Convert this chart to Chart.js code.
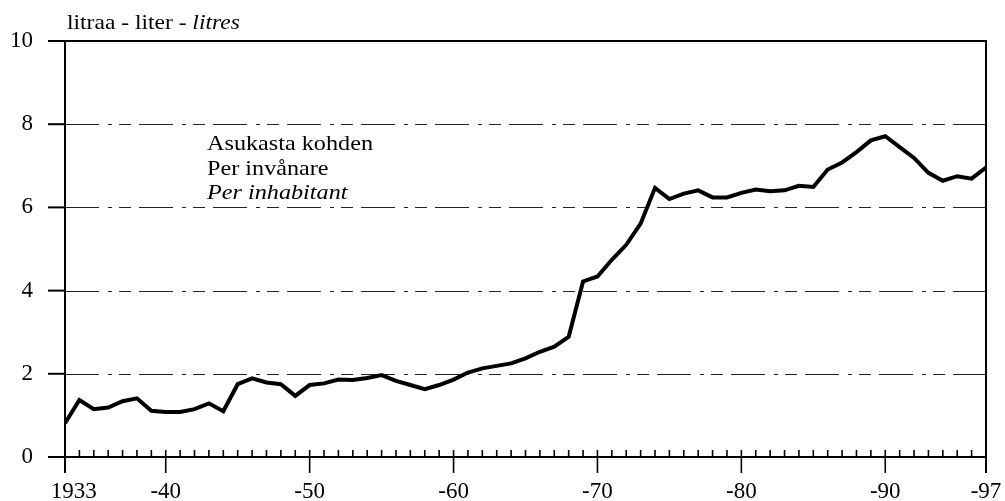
<!DOCTYPE html>
<html>
<head>
<meta charset="utf-8">
<script src="https://cdn.jsdelivr.net/npm/chart.js@4.4.0/dist/chart.umd.min.js"></script>
<style>
  html, body { margin: 0; padding: 0; background: #fff; }
  #wrap { width: 1005px; height: 501px; position: relative; }
</style>
</head>
<body>
<div id="wrap"><canvas id="chart"></canvas></div>
<script>
// === DATA ===
const years = [
  1933, 1934, 1935, 1936, 1937, 1938, 1939, 1940, 1941, 1942,
  1943, 1944, 1945, 1946, 1947, 1948, 1949, 1950, 1951, 1952,
  1953, 1954, 1955, 1956, 1957, 1958, 1959, 1960, 1961, 1962,
  1963, 1964, 1965, 1966, 1967, 1968, 1969, 1970, 1971, 1972,
  1973, 1974, 1975, 1976, 1977, 1978, 1979, 1980, 1981, 1982,
  1983, 1984, 1985, 1986, 1987, 1988, 1989, 1990, 1991, 1992,
  1993, 1994, 1995, 1996, 1997
];
const litres = [
  0.81, 1.37, 1.15, 1.19, 1.34, 1.41, 1.11, 1.08, 1.08, 1.15,
  1.29, 1.10, 1.75, 1.89, 1.79, 1.75, 1.47, 1.73, 1.77, 1.86,
  1.85, 1.90, 1.97, 1.83, 1.73, 1.63, 1.73, 1.86, 2.03, 2.13,
  2.19, 2.25, 2.37, 2.53, 2.65, 2.89, 4.22, 4.34, 4.74, 5.10,
  5.61, 6.47, 6.20, 6.33, 6.41, 6.24, 6.24, 6.35, 6.43, 6.39,
  6.41, 6.52, 6.49, 6.91, 7.08, 7.33, 7.61, 7.71, 7.45, 7.19,
  6.83, 6.64, 6.75, 6.69, 6.96
];
const xTickYears = [1933, 1940, 1950, 1960, 1970, 1980, 1990, 1997];
const xTickLabels = ['   1933', '-40', '-50', '-60', '-70', '-80', '-90', '-97'];
const yTicks = [0, 2, 4, 6, 8, 10];
const yGridValues = [2, 4, 6, 8];
const unitTitle = ['litraa - liter - ', 'litres'];
const noteLines = ['Asukasta kohden', 'Per invånare', 'Per inhabitant'];

const SERIF = '"Liberation Serif", "DejaVu Serif", serif';

// texte un peu étiré, comme dans le scan
function texteEtire(ctx, parts, x, y, stretch) {
  ctx.save();
  ctx.translate(x, y);
  ctx.scale(stretch, 1);
  let dx = 0;
  parts.forEach(p => {
    ctx.font = p.font;
    ctx.fillText(p.text, dx, 0);
    dx += ctx.measureText(p.text).width;
  });
  ctx.restore();
}

// axes, ticks, dashed grid and texts
const decor = {
  id: 'decor',
  beforeDatasetsDraw(chart) {
    const { ctx, chartArea: a, scales: { y } } = chart;
    ctx.save();
    ctx.strokeStyle = '#222';
    ctx.lineWidth = 1.2;
    ctx.setLineDash([34, 9, 4, 7, 12, 8]);
    yGridValues.forEach(v => {
      const py = Math.round(y.getPixelForValue(v)) + 0.5;
      ctx.beginPath();
      ctx.moveTo(a.left, py);
      ctx.lineTo(a.right, py);
      ctx.stroke();
    });
    ctx.restore();
  },
  afterDatasetsDraw(chart) {
    const { ctx, chartArea: a, scales: { x, y } } = chart;
    ctx.save();
    ctx.strokeStyle = '#000';
    ctx.lineWidth = 2;
    const below = a.bottom + 16;
    // frame
    ctx.beginPath();
    ctx.moveTo(a.left, below);
    ctx.lineTo(a.left, a.top);
    ctx.lineTo(a.right, a.top);
    ctx.lineTo(a.right, below);
    ctx.moveTo(a.left, a.bottom);
    ctx.lineTo(a.right, a.bottom);
    ctx.stroke();
    // y ticks to the left
    yTicks.forEach(v => {
      const py = y.getPixelForValue(v);
      ctx.beginPath();
      ctx.moveTo(a.left - 17, py);
      ctx.lineTo(a.left, py);
      ctx.stroke();
    });
    // x ticks: minor up, major across
    ctx.lineWidth = 1.6;
    years.forEach(yr => {
      const px = x.getPixelForValue(yr);
      ctx.beginPath();
      ctx.moveTo(px, a.bottom - 7);
      ctx.lineTo(px, xTickYears.includes(yr) ? below : a.bottom);
      ctx.stroke();
    });
    // unit title + note
    ctx.fillStyle = '#000';
    ctx.textBaseline = 'alphabetic';
    ctx.textAlign = 'left';
    texteEtire(ctx, [
      { text: unitTitle[0], font: '21px ' + SERIF },
      { text: unitTitle[1], font: 'italic 21px ' + SERIF }
    ], 67, 29, 1.12);
    noteLines.forEach((t, i) => {
      texteEtire(ctx, [{ text: t, font: (i === 2 ? 'italic ' : '') + '22px ' + SERIF }],
        207, 150 + i * 24.5, 1.1);
    });
    ctx.restore();
  }
};

new Chart(document.getElementById('chart'), {
  type: 'line',
  data: {
    datasets: [{
      data: years.map((yr, i) => ({ x: yr, y: litres[i] })),
      borderColor: '#000',
      borderWidth: 4,
      pointRadius: 0,
      tension: 0,
      fill: false
    }]
  },
  options: {
    responsive: true,
    maintainAspectRatio: false,
    animation: false,
    layout: { padding: { top: 41, right: 19, left: 0, bottom: 0 } },
    plugins: { legend: { display: false }, tooltip: { enabled: false } },
    scales: {
      x: {
        type: 'linear',
        min: 1933,
        max: 1997,
        afterBuildTicks: s => { s.ticks = xTickYears.map(v => ({ value: v })); },
        afterFit: s => { s.height = 44; s.paddingLeft = 0; s.paddingRight = 0; },
        grid: { display: true, drawOnChartArea: false, drawTicks: false },
        border: { display: false },
        ticks: {
          autoSkip: false,
          maxRotation: 0,
          padding: 21,
          color: '#000',
          font: { family: SERIF, size: 23 },
          callback: v => xTickLabels[xTickYears.indexOf(v)]
        }
      },
      y: {
        min: 0,
        max: 10,
        afterBuildTicks: s => { s.ticks = yTicks.map(v => ({ value: v })); },
        afterFit: s => { s.width = 65; s.paddingTop = 0; s.paddingBottom = 0; },
        grid: { display: true, drawOnChartArea: false, drawTicks: true, tickLength: 17, color: 'rgba(0,0,0,0)' },
        border: { display: false },
        ticks: {
          padding: 15,
          color: '#000',
          font: { family: SERIF, size: 23 }
        }
      }
    }
  },
  plugins: [decor]
});
</script>
</body>
</html>
